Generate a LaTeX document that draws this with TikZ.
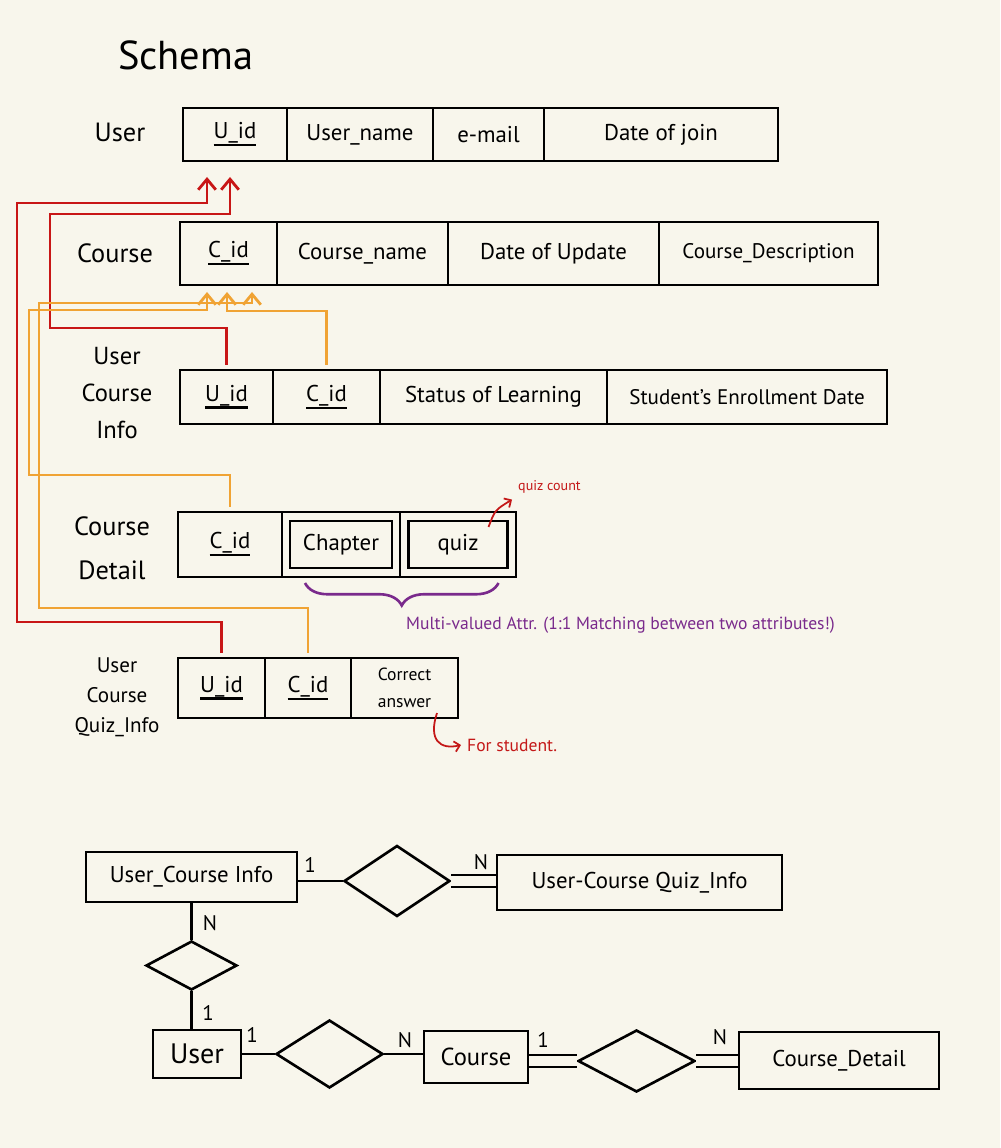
\documentclass[tikz,border=0pt]{standalone}
\usepackage{fontspec}
\setmainfont{PT Sans}
\usetikzlibrary{arrows.meta,shapes.geometric,decorations.pathreplacing,calc}
\definecolor{paper}{RGB}{248, 246, 236}
\definecolor{fkred}{RGB}{200, 22, 22}
\definecolor{fkorange}{RGB}{240, 163, 52}
\definecolor{notepurple}{RGB}{122, 42, 140}
\definecolor{notered}{RGB}{196, 24, 24}
% key attribute: text with a thick underline
\newcommand{\pk}[1]{\setbox0\hbox{#1}\rlap{\rule[-0.32em]{\wd0}{1.3pt}}\box0}
\tikzset{
    cellw/.style={minimum width=#1*0.02cm},
    cellh/.style={minimum height=#1*0.02cm},
    cell/.style={draw, line width=1.5pt, anchor=north west, inner sep=0pt, outer sep=0pt, font=\fontsize{13}{15}\selectfont},
    tbllabel/.style={align=center, font=\fontsize{15}{21}\selectfont},
    fk/.style={line width=1.6pt, shorten <=3pt, -{Straight Barb[length=6pt,width=10pt]}},
    entity/.style={draw, line width=1.5pt, inner sep=0pt, font=\fontsize{13}{15}\selectfont},
    rel/.style={draw, diamond, line width=1.5pt, inner sep=0pt},
    card/.style={font=\fontsize{12}{14}\selectfont},
    link/.style={line width=1.5pt},
    total/.style={line width=1.3pt, double=paper, double distance=0.2cm},
    note/.style={line width=1pt, -{Straight Barb[length=3pt,width=6pt]}}
}
\begin{document}
\begin{tikzpicture}[x=0.02cm, y=-0.02cm]
            \fill[paper] (0,0) rectangle (1000,1148);
            \useasboundingbox (0,0) rectangle (1000,1148);
            \node[anchor=west, font=\fontsize{23}{26}\selectfont] (schema-title) at (112,55) {Schema};
            % User
            \node[tbllabel]                       (user-lbl)  at (120,132)             {User};
            \node[cell, cellw=104, cellh=53]      (user-uid)  at (183,108)             {\pk{U\_id}};
            \node[cell, cellw=146, cellh=53]      (user-name) at (user-uid.north east) {User\_name};
            \node[cell, cellw=111, cellh=53]      (user-mail) at (user-name.north east) {e-mail};
            \node[cell, cellw=234, cellh=53]      (user-join) at (user-mail.north east) {Date of join};
            % Course
            \node[tbllabel]                       (course-lbl)  at (115,253)               {Course};
            \node[cell, cellw=97,  cellh=63]      (course-cid)  at (180,222)               {\pk{C\_id}};
            \node[cell, cellw=171, cellh=63]      (course-name) at (course-cid.north east) {Course\_name};
            \node[cell, cellw=211, cellh=63]      (course-upd)  at (course-name.north east) {Date of Update};
            \node[cell, cellw=219, cellh=63, font=\fontsize{12}{14}\selectfont]
                                                  (course-desc) at (course-upd.north east) {Course\_Description};
            % User Course Info
            \node[tbllabel, font=\fontsize{14}{21}\selectfont] (uci-lbl) at (117,393) {User\\Course\\Info};
            \node[cell, cellw=93,  cellh=54]      (uci-uid)    at (180,370)              {\pk{U\_id}};
            \node[cell, cellw=107, cellh=54]      (uci-cid)    at (uci-uid.north east)   {\pk{C\_id}};
            \node[cell, cellw=227, cellh=54]      (uci-status) at (uci-cid.north east)   {Status of Learning};
            \node[cell, cellw=280, cellh=54, font=\fontsize{12}{14}\selectfont]
                                                  (uci-enroll) at (uci-status.north east) {Student's Enrollment Date};
            % Course Detail
            \node[tbllabel, font=\fontsize{15}{25}\selectfont] (cd-lbl) at (112,548) {Course\\Detail};
            \node[cell, cellw=104, cellh=65]      (cd-cid)     at (178,512)              {\pk{C\_id}};
            \node[cell, cellw=118, cellh=65]      (cd-chapcell) at (cd-cid.north east)   {};
            \node[cell, cellw=116, cellh=65]      (cd-quizcell) at (cd-chapcell.north east) {};
            \node[cell, anchor=center, cellw=102, cellh=47] (cd-chapter) at (cd-chapcell.center) {Chapter};
            \node[cell, anchor=center, cellw=99,  cellh=47] (cd-quiz)    at (cd-quizcell.center) {quiz};
            % User Course Quiz_Info
            \node[tbllabel, font=\fontsize{12}{17}\selectfont] (ucqi-lbl) at (117,697) {User\\Course\\Quiz\_Info};
            \node[cell, cellw=87,  cellh=60]      (ucqi-uid)  at (178,658)            {\pk{U\_id}};
            \node[cell, cellw=86,  cellh=60]      (ucqi-cid)  at (ucqi-uid.north east) {\pk{C\_id}};
            \node[cell, cellw=107, cellh=60, align=left, font=\fontsize{10}{15}\selectfont]
                                                  (ucqi-ans)  at (ucqi-cid.north east) {Correct\\answer};
            % Foreign keys to User
            \draw[fk, fkred]    (uci-uid.north)  |- (50,328) |- ($(user-uid.south)+(-5,53)$)  -- ($(user-uid.south)+(-5,16)$);
            \draw[fk, fkred]    (ucqi-uid.north) |- (17,622) |- ($(user-uid.south)+(-28,42)$) -- ($(user-uid.south)+(-28,16)$);
            % Foreign keys to Course
            \draw[fk, fkorange] (uci-cid.north)                 |- ($(course-cid.south)+(-1.5,26)$) -- ($(course-cid.south)+(-1.5,7)$);
            \draw[fk, fkorange] (cd-cid.north)   |- (29,475)    |- ($(course-cid.south)+(-21.5,25)$) -- ($(course-cid.south)+(-21.5,7)$);
            \draw[fk, fkorange] (ucqi-cid.north) |- (39,608)    |- ($(course-cid.south)+(23.5,18)$)  -- ($(course-cid.south)+(23.5,7)$);
            % Notes
            \node[anchor=west, text=notered, font=\fontsize{8}{9}\selectfont] (qc-note) at (512,487) {quiz count};
            \coordinate (qc-start) at ($(cd-quiz.north east)+(-19,6)$);
            \draw[note, notered] (qc-start) .. controls (495,510) .. (qc-note.south west);
            \draw[notepurple, line width=1.5pt, decorate, decoration={brace, mirror, amplitude=0.45cm}]
                 ($(cd-chapter.south west)+(15,15)$) -- ($(cd-quiz.south east)+(-9,15)$);
            \node[anchor=west, text=notepurple, font=\fontsize{10}{12}\selectfont] (mv-note) at (400,625)
                 {Multi-valued Attr. (1:1 Matching between two attributes!)};
            \coordinate (ans-hook) at ($(ucqi-ans.south east)+(-21,-5)$);
            \node[anchor=west, text=notered, font=\fontsize{10}{12}\selectfont] (fs-note) at (461,745) {For student.};
            \draw[note, notered] (ans-hook) .. controls (428,740) and (440,750) .. (fs-note.west);
            % ER diagram
            \node[entity, cellw=211, cellh=50]    (er-uci)    at (191.5,877)  {User\_Course Info};
            \node[entity, cellw=285, cellh=55]    (er-ucqi)   at (639.5,882.5) {User-Course Quiz\_Info};
            \node[rel,    cellw=106, cellh=71]    (er-r1)     at (397,881)    {};
            \node[rel,    cellw=91,  cellh=49]    (er-r2)     at (191.5,965.5) {};
            \node[entity, cellw=88,  cellh=48, font=\fontsize{16}{18}\selectfont]
                                                  (er-user)   at (197,1054)   {User};
            \node[rel,    cellw=107, cellh=68]    (er-r3)     at (329.5,1054) {};
            \node[entity, cellw=104, cellh=52, font=\fontsize{14}{16}\selectfont]
                                                  (er-course) at (476,1057)   {Course};
            \node[rel,    cellw=117, cellh=62]    (er-r4)     at (636.5,1061) {};
            \node[entity, cellw=200, cellh=57]    (er-cd)     at (839,1060.5) {Course\_Detail};
            \draw[link]  (er-r1.west -| er-uci.east) -- (er-r1.west);
            \draw[total] (er-r1.east) -- (er-ucqi.west |- er-r1.east);
            \draw[link]  (er-uci.south -| er-r2.north) -- (er-r2.north);
            \draw[link]  (er-r2.south) -- (er-r2.south |- er-user.north);
            \draw[link]  (er-user.east) -- (er-r3.west);
            \draw[link]  (er-r3.east) -- (er-r3.east -| er-course.west);
            \draw[total] (er-r4.west -| er-course.east) -- (er-r4.west);
            \draw[total] (er-r4.east) -- (er-cd.west |- er-r4.east);
            % Cardinalities
            \node[card] (c-uci-r1)    at (310,865)  {1};
            \node[card] (c-r1-ucqi)   at (481,862)  {N};
            \node[card] (c-uci-r2)    at (210,923)  {N};
            \node[card] (c-r2-user)   at (208,1013) {1};
            \node[card] (c-user-r3)   at (252,1035) {1};
            \node[card] (c-r3-course) at (405,1040) {N};
            \node[card] (c-course-r4) at (543,1040) {1};
            \node[card] (c-r4-cd)     at (720,1037) {N};
\end{tikzpicture}
\end{document}
